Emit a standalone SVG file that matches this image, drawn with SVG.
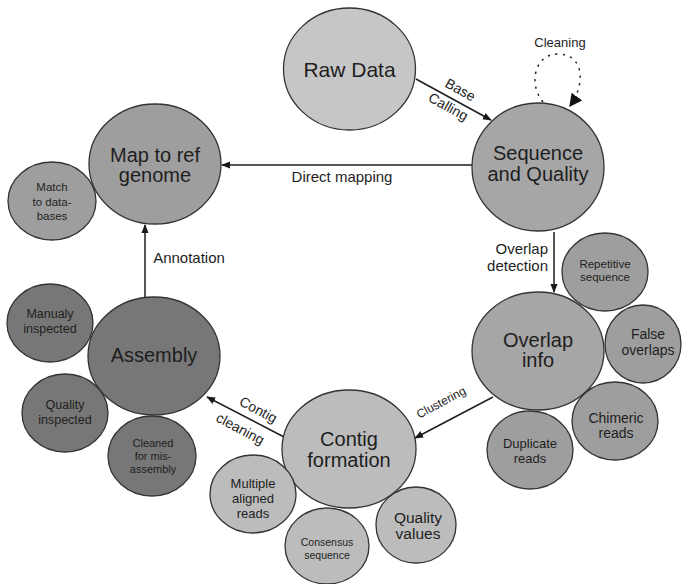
<svg xmlns="http://www.w3.org/2000/svg" width="682" height="584" viewBox="0 0 682 584">
  <defs>
    <marker id="arrow" viewBox="0 0 10 10" refX="9" refY="5" markerWidth="9" markerHeight="9" markerUnits="userSpaceOnUse" orient="auto">
      <path d="M0,1 L10,5 L0,9 Z" fill="#1a1a1a"/>
    </marker>
    <marker id="arrowBig" viewBox="0 0 10 10" refX="9" refY="5" markerWidth="13" markerHeight="13" markerUnits="userSpaceOnUse" orient="auto">
      <path d="M0,0 L10,5 L0,10 Z" fill="#111"/>
    </marker>
  </defs>
  <style>
    text { font-family: "Liberation Sans", Arial, sans-serif; fill: #1e1e1e; text-anchor: middle; }
    .node { stroke: #333; stroke-width: 1.3; }
    .main { font-size: 20px; }
    .lbl { font-size: 15px; }
    .edge { stroke: #1e1e1e; stroke-width: 1.5; fill: none; }
    .l1 { fill: #c6c6c6; }
    .l2 { fill: #bcbcbc; }
    .m1 { fill: #a6a6a6; }
    .m2 { fill: #9e9e9e; }
    .d1 { fill: #777777; }
  </style>
  <rect width="682" height="584" fill="#ffffff"/>

  <!-- connectors -->
  <g id="connectors">
    <line class="edge" x1="416" y1="79" x2="491" y2="120" marker-end="url(#arrow)"/>
    <text transform="translate(458,94) rotate(29)" style="font-size:14px">Base</text>
    <text transform="translate(446,111) rotate(29)" style="font-size:14px">Calling</text>

    <!-- self loop: dotted cleaning pass -->
    <path class="edge" d="M543,102 C529,86 533,54 558,54 C584,54 586,84 570,106" stroke="#000" stroke-width="3" stroke-dasharray="2.2 5.3" marker-end="url(#arrowBig)"/>
    <text x="560" y="47" style="font-size:13px">Cleaning</text>

    <line class="edge" x1="472" y1="165" x2="222" y2="165" marker-end="url(#arrow)"/>
    <text class="lbl" x="342" y="182">Direct mapping</text>

    <line class="edge" x1="554" y1="232" x2="554" y2="292" marker-end="url(#arrow)"/>
    <text class="lbl" x="548" y="254" style="text-anchor:end">Overlap</text>
    <text class="lbl" x="548" y="271" style="text-anchor:end">detection</text>

    <line class="edge" x1="493" y1="397" x2="415" y2="438" marker-end="url(#arrow)"/>
    <text transform="translate(443,406) rotate(-28)" style="font-size:12px">Clustering</text>

    <line class="edge" x1="286" y1="438" x2="207" y2="397" marker-end="url(#arrow)"/>
    <text transform="translate(256,414) rotate(28)" style="font-size:14px">Contig</text>
    <text transform="translate(238,433) rotate(28)" style="font-size:14px">cleaning</text>

    <line class="edge" x1="145" y1="297" x2="145" y2="225" marker-end="url(#arrow)"/>
    <text class="lbl" x="189" y="263">Annotation</text>
  </g>

  <!-- main stages -->
  <g id="raw-data">
    <ellipse class="node l1" cx="349.5" cy="69" rx="66" ry="61"/>
    <text class="main" x="349.5" y="77" style="font-size:21px">Raw Data</text>
  </g>
  <g id="sequence-quality">
    <ellipse class="node m1" cx="538" cy="167" rx="66" ry="64"/>
    <text class="main" x="538" y="160">Sequence</text>
    <text class="main" x="538" y="181">and Quality</text>
  </g>
  <g id="map-to-ref">
    <ellipse class="node m2" cx="155" cy="164" rx="66" ry="60"/>
    <text class="main" x="155" y="162">Map to ref</text>
    <text class="main" x="155" y="182">genome</text>
  </g>
  <g id="overlap-info">
    <ellipse class="node m1" cx="538" cy="351" rx="66" ry="59"/>
    <text class="main" x="538" y="347">Overlap</text>
    <text class="main" x="538" y="367">info</text>
  </g>
  <g id="contig-formation">
    <ellipse class="node l2" cx="349" cy="449" rx="67" ry="59"/>
    <text class="main" x="349" y="446">Contig</text>
    <text class="main" x="349" y="467">formation</text>
  </g>
  <g id="assembly">
    <ellipse class="node d1" cx="154" cy="356" rx="66" ry="59"/>
    <text class="main" x="154" y="362">Assembly</text>
  </g>

  <!-- satellite details -->
  <g id="match-databases">
    <ellipse class="node m2" cx="52" cy="201" rx="44" ry="39"/>
    <text x="52" y="191" style="font-size:11.5px">Match</text>
    <text x="52" y="206" style="font-size:11.5px">to data-</text>
    <text x="52" y="220" style="font-size:11.5px">bases</text>
  </g>
  <g id="manualy-inspected">
    <ellipse class="node d1" cx="50" cy="323" rx="43" ry="39"/>
    <text x="50" y="318" style="font-size:12.5px">Manualy</text>
    <text x="50" y="333" style="font-size:12.5px">inspected</text>
  </g>
  <g id="quality-inspected">
    <ellipse class="node d1" cx="65" cy="413" rx="43" ry="39"/>
    <text x="65" y="409" style="font-size:12.5px">Quality</text>
    <text x="65" y="424" style="font-size:12.5px">inspected</text>
  </g>
  <g id="cleaned-misassembly">
    <ellipse class="node d1" cx="152" cy="456" rx="44" ry="40"/>
    <text x="153" y="447" style="font-size:11px">Cleaned</text>
    <text x="153" y="460" style="font-size:11px">for mis-</text>
    <text x="153" y="473" style="font-size:11px">assembly</text>
  </g>
  <g id="multiple-aligned">
    <ellipse class="node l2" cx="253" cy="494" rx="43" ry="39"/>
    <text x="253" y="488" style="font-size:13px">Multiple</text>
    <text x="253" y="503" style="font-size:13px">aligned</text>
    <text x="253" y="518" style="font-size:13px">reads</text>
  </g>
  <g id="consensus-sequence">
    <ellipse class="node l2" cx="327" cy="546" rx="42" ry="38"/>
    <text x="327" y="546" style="font-size:10.5px">Consensus</text>
    <text x="327" y="559" style="font-size:10.5px">sequence</text>
  </g>
  <g id="quality-values">
    <ellipse class="node l2" cx="416" cy="525" rx="40" ry="38"/>
    <text x="418" y="523" style="font-size:15.5px">Quality</text>
    <text x="418" y="539" style="font-size:15.5px">values</text>
  </g>
  <g id="repetitive-sequence">
    <ellipse class="node m2" cx="605" cy="272" rx="43" ry="39"/>
    <text x="605" y="268" style="font-size:11.5px">Repetitive</text>
    <text x="605" y="281" style="font-size:11.5px">sequence</text>
  </g>
  <g id="false-overlaps">
    <ellipse class="node m2" cx="643" cy="344" rx="38" ry="39"/>
    <text x="648" y="339" style="font-size:14px">False</text>
    <text x="648" y="355" style="font-size:14px">overlaps</text>
  </g>
  <g id="chimeric-reads">
    <ellipse class="node m2" cx="615" cy="421" rx="43" ry="39"/>
    <text x="616" y="423" style="font-size:14px">Chimeric</text>
    <text x="616" y="438" style="font-size:14px">reads</text>
  </g>
  <g id="duplicate-reads">
    <ellipse class="node m2" cx="530" cy="450" rx="43" ry="39"/>
    <text x="530" y="448" style="font-size:13px">Duplicate</text>
    <text x="530" y="463" style="font-size:13px">reads</text>
  </g>
</svg>
